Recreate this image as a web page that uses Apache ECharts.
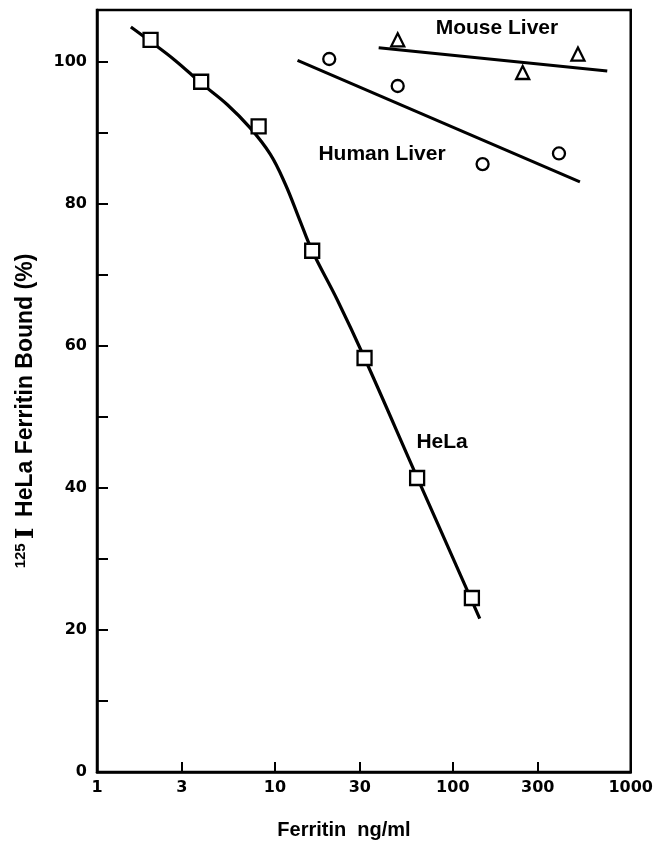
<!DOCTYPE html>
<html><head><meta charset="utf-8">
<script src="https://cdn.jsdelivr.net/npm/echarts@6/dist/echarts.min.js"></script>
<style>html,body{margin:0;padding:0;background:#fff}#c{width:656px;height:844px}</style>
</head><body><div id="c"></div>
<script>
// tick values
const xTicks = [1, 3, 10, 30, 100, 300, 1000];
const yLabels = [0, 20, 40, 60, 80, 100];
const yTicks = [0, 10, 20, 30, 40, 50, 60, 70, 80, 90, 100];
// HeLa data points and fitted curve
const helaPoints = [[2, 103.1], [3.85, 97.2], [8.1, 90.9], [16.2, 73.4], [31.9, 58.3], [63, 41.4], [128, 24.5]];
const helaCurve = [[1.55, 104.9], [1.94, 103.1], [2.75, 100.2], [3.85, 97.0], [5.39, 94.0], [7.26, 90.7], [9.41, 87.0],
  [11.43, 82.8], [13.7, 77.9], [16.2, 73.4], [22.4, 66.5], [31.9, 58.3], [63, 41.5], [141.7, 21.6]];
// Human liver
const humanPoints = [[20.2, 100.4], [49, 96.6], [147, 85.6], [395, 87.1]];
const humanLine = [[13.4, 100.2], [518, 83.1]];
// Mouse liver
const mousePoints = [[49, 103.1], [247, 98.5], [505, 101.1]];
const mouseLine = [[38.3, 102.0], [738, 98.7]];
// in-plot labels
const seriesLabels = [
  { name: 'Mouse Liver', value: [177, 104.7] },
  { name: 'Human Liver', value: [40, 87] },
  { name: 'HeLa', value: [87, 46.5] }
];

const chart = echarts.init(document.getElementById('c'), null, { renderer: 'canvas' });
const tickFont = { color: '#000', fontFamily: 'DejaVu Sans', fontWeight: 'bold', fontSize: 16 };
const option = {
  backgroundColor: '#fff',
  animation: false,
  grid: { left: 97, right: 25, top: 10, bottom: 72, show: true, borderColor: '#000', borderWidth: 2.5, backgroundColor: 'transparent' },
  xAxis: {
    type: 'log', logBase: 10, min: 1, max: 1000,
    axisLine: { show: true, lineStyle: { color: '#000', width: 2.5 } },
    axisTick: { show: true, inside: true, length: 10, lineStyle: { color: '#000', width: 2 }, customValues: xTicks },
    axisLabel: Object.assign({ margin: 8, customValues: xTicks, formatter: v => String(v) }, tickFont),
    splitLine: { show: false }, minorTick: { show: false }
  },
  yAxis: {
    type: 'value', min: 0, max: 107.3,
    axisLine: { show: true, lineStyle: { color: '#000', width: 2.5 } },
    axisTick: { show: true, inside: true, length: 11, lineStyle: { color: '#000', width: 2 }, customValues: yTicks },
    axisLabel: Object.assign({ margin: 10, customValues: yLabels }, tickFont),
    splitLine: { show: false }
  },
  graphic: [
    { type: 'text', x: 344, y: 830, style: { text: 'Ferritin  ng/ml', fill: '#000', font: 'bold 20px "Liberation Sans"', textAlign: 'center', textVerticalAlign: 'middle' } },
    { type: 'text', x: 26, y: 411, rotation: Math.PI / 2,
      style: { text: '{s|125}{i|I} HeLa Ferritin Bound (%)', fill: '#000', font: 'bold 23px "Liberation Sans"', textAlign: 'center', textVerticalAlign: 'middle',
        rich: {
          s: { fontSize: 15, fontWeight: 'bold', fontFamily: 'Liberation Sans', verticalAlign: 'top', fill: '#000' },
          i: { fontSize: 25, fontFamily: 'DejaVu Serif', fontWeight: 'bold', fill: '#000', width: 20, align: 'center' }
        } } }
  ],
  series: [
    { type: 'line', data: helaCurve, smooth: 0.4, symbol: 'none', lineStyle: { color: '#000', width: 3.2 }, z: 2 },
    { type: 'line', data: humanLine, symbol: 'none', lineStyle: { color: '#000', width: 3 }, z: 2 },
    { type: 'line', data: mouseLine, symbol: 'none', lineStyle: { color: '#000', width: 3 }, z: 2 },
    { type: 'scatter', data: helaPoints, symbol: 'rect', symbolSize: 14, itemStyle: { color: '#fff', borderColor: '#000', borderWidth: 2.3, opacity: 1 }, z: 3 },
    { type: 'scatter', data: humanPoints, symbol: 'circle', symbolSize: 12, itemStyle: { color: '#fff', borderColor: '#000', borderWidth: 2.3, opacity: 1 }, z: 3 },
    { type: 'scatter', data: mousePoints, symbol: 'triangle', symbolSize: 13, itemStyle: { color: '#fff', borderColor: '#000', borderWidth: 2.3, opacity: 1 }, z: 3 },
    { type: 'scatter', data: seriesLabels, symbolSize: 0, silent: true, z: 4, itemStyle: { opacity: 1, color: '#000' },
      label: { show: true, position: 'inside', formatter: p => p.name, color: '#000', opacity: 1, fontFamily: 'Liberation Sans', fontWeight: 'bold', fontSize: 21 } }
  ]
};
chart.setOption(option);
</script></body></html>
